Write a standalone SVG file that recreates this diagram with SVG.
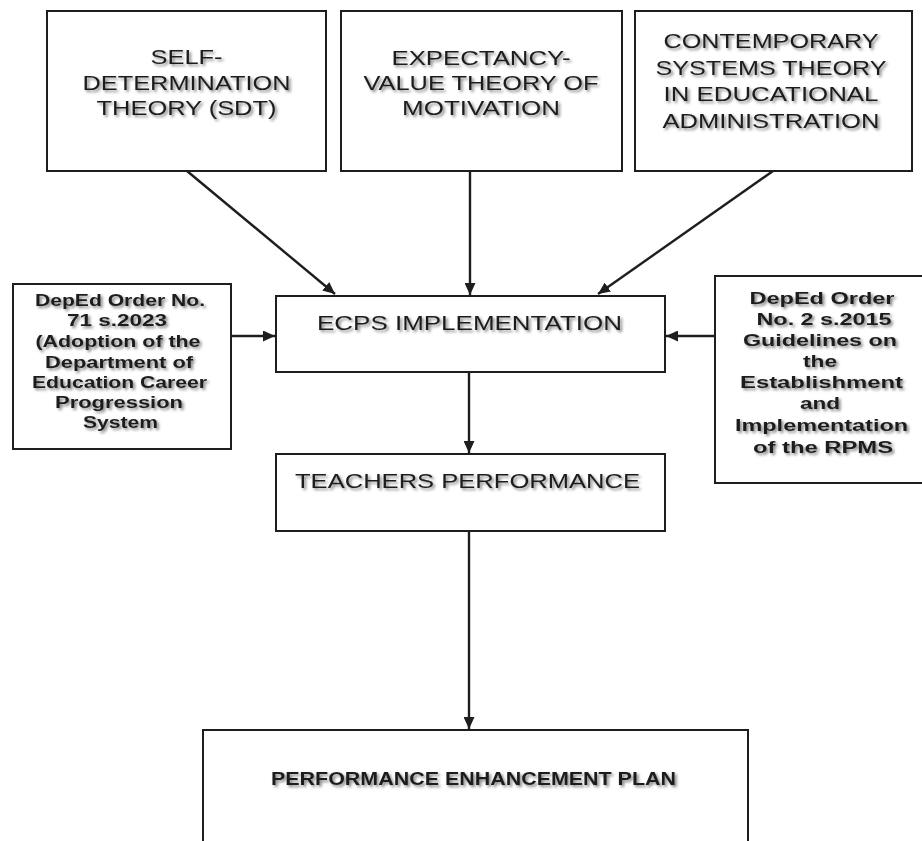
<svg xmlns="http://www.w3.org/2000/svg" width="922" height="841" viewBox="0 0 922 841">
<defs>
<style>
.box{fill:#fff;stroke:#1e1e1e;stroke-width:2}
.t{font-family:"Liberation Sans",Arial,sans-serif;font-size:21px;fill:#1e1e1e;text-anchor:middle;filter:url(#sh)}
.b{font-family:"Liberation Sans",Arial,sans-serif;font-size:16px;font-weight:bold;fill:#1e1e1e;text-anchor:middle;filter:url(#sh)}
.p{font-family:"Liberation Sans",Arial,sans-serif;font-size:18px;font-weight:bold;fill:#1e1e1e;text-anchor:middle;filter:url(#sh)}
.c{stroke:#1e1e1e;stroke-width:2.4;fill:none;marker-end:url(#ah)}
</style>
<filter id="sh" x="-10%" y="-30%" width="120%" height="160%">
<feGaussianBlur in="SourceAlpha" stdDeviation="1.4" result="b"/>
<feOffset in="b" dx="1.5" dy="2" result="o"/>
<feComponentTransfer in="o" result="s"><feFuncA type="linear" slope="0.5"/></feComponentTransfer>
<feMerge><feMergeNode in="s"/><feMergeNode in="SourceGraphic"/></feMerge>
</filter>
<marker id="ah" markerUnits="userSpaceOnUse" markerWidth="13" markerHeight="11" refX="12" refY="5.5" orient="auto">
<path d="M0,0 L12,5.5 L0,11 Z" fill="#1e1e1e"/>
</marker>
</defs>
<rect width="922" height="841" fill="#fff"/>
<g id="connectors">
<line class="c" x1="187" y1="171" x2="335" y2="294"/>
<line class="c" x1="470" y1="171" x2="470" y2="295"/>
<line class="c" x1="773" y1="171" x2="598" y2="294"/>
<line class="c" x1="231" y1="336" x2="275" y2="336"/>
<line class="c" x1="715" y1="336" x2="666" y2="336"/>
<line class="c" x1="469" y1="372" x2="469" y2="453"/>
<line class="c" x1="469" y1="531" x2="469" y2="729"/>
</g>
<g id="sdt">
<rect class="box" x="47" y="11" width="279" height="160"/>
<text class="t" x="186.5" y="64" textLength="72" lengthAdjust="spacingAndGlyphs">SELF-</text>
<text class="t" x="186.5" y="90" textLength="208" lengthAdjust="spacingAndGlyphs">DETERMINATION</text>
<text class="t" x="186.5" y="115" textLength="180" lengthAdjust="spacingAndGlyphs">THEORY (SDT)</text>
</g>
<g id="evt">
<rect class="box" x="341" y="11" width="281" height="160"/>
<text class="t" x="481" y="65" textLength="179" lengthAdjust="spacingAndGlyphs">EXPECTANCY-</text>
<text class="t" x="481" y="90" textLength="235" lengthAdjust="spacingAndGlyphs">VALUE THEORY OF</text>
<text class="t" x="481" y="115" textLength="158" lengthAdjust="spacingAndGlyphs">MOTIVATION</text>
</g>
<g id="cst">
<rect class="box" x="635" y="11" width="277" height="160"/>
<text class="t" x="771" y="48" textLength="215" lengthAdjust="spacingAndGlyphs">CONTEMPORARY</text>
<text class="t" x="771" y="75" textLength="231" lengthAdjust="spacingAndGlyphs">SYSTEMS THEORY</text>
<text class="t" x="771" y="101" textLength="215" lengthAdjust="spacingAndGlyphs">IN EDUCATIONAL</text>
<text class="t" x="771" y="128" textLength="217" lengthAdjust="spacingAndGlyphs">ADMINISTRATION</text>
</g>
<g id="deped71">
<rect class="box" x="13" y="284" width="218" height="165"/>
<text class="b" x="120" y="306" textLength="170" lengthAdjust="spacingAndGlyphs">DepEd Order No.</text>
<text class="b" x="117" y="326" textLength="100" lengthAdjust="spacingAndGlyphs">71 s.2023</text>
<text class="b" x="118" y="347" textLength="165" lengthAdjust="spacingAndGlyphs">(Adoption  of the</text>
<text class="b" x="119" y="368" textLength="148" lengthAdjust="spacingAndGlyphs">Department of</text>
<text class="b" x="119.5" y="388" textLength="175" lengthAdjust="spacingAndGlyphs">Education Career</text>
<text class="b" x="119" y="408" textLength="128" lengthAdjust="spacingAndGlyphs">Progression</text>
<text class="b" x="120.5" y="428" textLength="75" lengthAdjust="spacingAndGlyphs">System</text>
</g>
<g id="deped2">
<rect class="box" x="715" y="276" width="215" height="207"/>
<text class="b" x="822" y="304" textLength="145" lengthAdjust="spacingAndGlyphs">DepEd Order</text>
<text class="b" x="824" y="325" textLength="135" lengthAdjust="spacingAndGlyphs">No. 2 s.2015</text>
<text class="b" x="820" y="346" textLength="154" lengthAdjust="spacingAndGlyphs">Guidelines on</text>
<text class="b" x="820" y="367" textLength="34" lengthAdjust="spacingAndGlyphs">the</text>
<text class="b" x="821.5" y="388" textLength="163" lengthAdjust="spacingAndGlyphs">Establishment</text>
<text class="b" x="820" y="409" textLength="40" lengthAdjust="spacingAndGlyphs">and</text>
<text class="b" x="821.5" y="431" textLength="173" lengthAdjust="spacingAndGlyphs">Implementation</text>
<text class="b" x="823" y="453" textLength="140" lengthAdjust="spacingAndGlyphs">of the RPMS</text>
</g>
<g id="ecps">
<rect class="box" x="276" y="296" width="389" height="76"/>
<text class="t" x="469.5" y="330" textLength="305" lengthAdjust="spacingAndGlyphs">ECPS IMPLEMENTATION</text>
</g>
<g id="teachers">
<rect class="box" x="276" y="454" width="389" height="77"/>
<text class="t" x="467.5" y="488" textLength="345" lengthAdjust="spacingAndGlyphs">TEACHERS PERFORMANCE</text>
</g>
<g id="pep">
<rect class="box" x="203" y="730" width="545" height="130"/>
<text class="p" x="473.5" y="785" textLength="405" lengthAdjust="spacingAndGlyphs">PERFORMANCE ENHANCEMENT PLAN</text>
</g>
</svg>
